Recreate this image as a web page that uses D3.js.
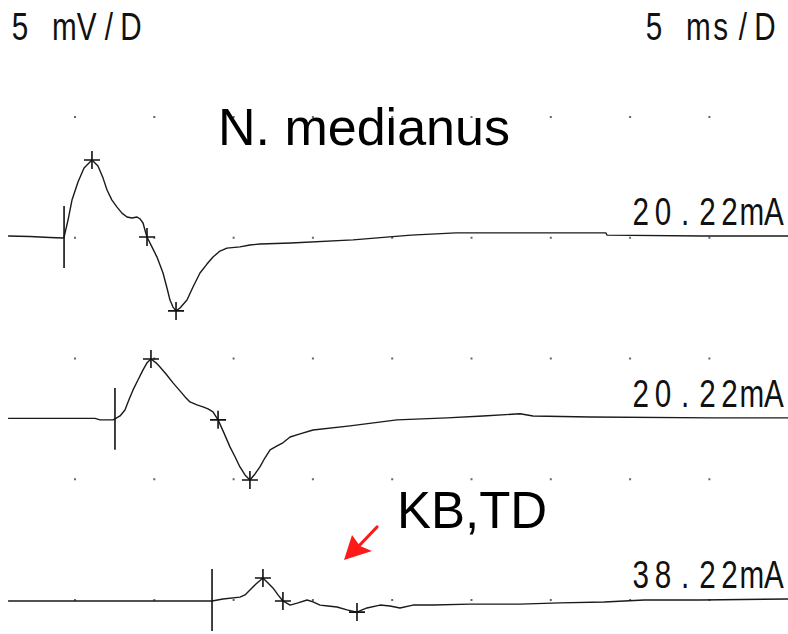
<!DOCTYPE html>
<html>
<head>
<meta charset="utf-8">
<script src="https://cdn.jsdelivr.net/npm/d3@7/dist/d3.min.js"></script>
<style>
  html, body { margin: 0; padding: 0; background: #fff; }
  svg { display: block; }
</style>
</head>
<body>
<svg id="chart" width="788" height="634"></svg>
<script>
// Sweep settings: 5 ms per division horizontally, 5 mV per division vertically
const msPerDiv = 5;
const mVPerDiv = 5;
const gridTimes = [5, 10, 15, 20, 25, 30, 35, 40, 45];
const gridLevels = [0, -5, -10, -15, -20];

// Recording 1 (time in ms, amplitude in mV relative to its baseline)
const trace1Time = [0.78, 2.16, 3.42, 4.24, 4.31, 4.56, 4.81, 5.19, 5.57, 6.07, 6.45, 6.77, 7.02, 7.33, 7.65, 7.96, 8.28, 8.59, 8.91, 9.10, 9.29, 9.41, 9.54, 9.85, 10.17, 10.55, 10.80, 10.99, 11.18, 11.37, 11.62, 12.06, 12.44, 12.88, 13.32, 13.70, 14.14, 14.58, 15.40, 16.03, 16.66, 18.62, 22.53, 26.19, 29.02, 38.48, 38.54, 44.53, 49.96];
const trace1Amp  = [0.04, 0.02, -0.02, -0.04, 0, 0.70, 1.53, 2.28, 2.86, 3.19, 2.94, 2.44, 1.95, 1.53, 1.24, 0.99, 0.83, 0.79, 0.83, 0.75, 0.58, 0.29, 0, -0.41, -0.83, -1.49, -2.11, -2.61, -2.90, -3.06, -2.94, -2.61, -2.07, -1.49, -1.12, -0.83, -0.58, -0.46, -0.41, -0.33, -0.29, -0.25, -0.12, 0.08, 0.17, 0.17, 0.08, 0.04, 0.04];
const trace1MarkTime = [6.07, 9.54, 11.37];
const trace1MarkAmp  = [3.19, 0, -3.06];

// Recording 2
const trace2Time = [0.78, 6.26, 6.58, 7.40, 7.52, 7.84, 8.15, 8.40, 8.66, 8.97, 9.29, 9.54, 9.79, 10.11, 10.36, 10.74, 11.18, 11.62, 11.94, 12.25, 12.69, 13.07, 13.39, 13.70, 14.02, 14.39, 14.77, 15.09, 15.40, 15.72, 16.03, 16.35, 16.66, 16.98, 17.30, 17.74, 18.11, 18.56, 19.19, 20.01, 22.34, 25.30, 28.46, 30.72, 33.06, 33.88, 37.47, 45.23, 49.96];
const trace2Amp  = [0.02, 0.02, -0.04, -0.04, 0, 0.12, 0.37, 0.79, 1.20, 1.61, 2.03, 2.32, 2.48, 2.32, 2.15, 1.86, 1.49, 1.16, 0.91, 0.70, 0.58, 0.50, 0.41, 0.29, -0.04, -0.58, -1.16, -1.57, -1.99, -2.32, -2.53, -2.28, -1.99, -1.61, -1.28, -1.12, -0.99, -0.75, -0.62, -0.46, -0.29, -0.04, 0.04, 0.12, 0.21, 0.12, 0.08, 0.04, 0.04];
const trace2MarkTime = [9.79, 14.02, 16.03];
const trace2MarkAmp  = [2.48, -0.04, -2.53];

// Recording 3
const trace3Time = [0.78, 6.58, 13.64, 14.33, 15.40, 15.72, 16.03, 16.41, 16.85, 17.17, 17.48, 17.80, 18.11, 18.56, 19.06, 19.63, 20.01, 20.45, 20.95, 21.52, 22.15, 22.78, 23.10, 23.41, 24.23, 24.86, 25.49, 26.31, 27.57, 29.91, 33.06, 35.58, 38.37, 40.90, 44.41, 49.96];
const trace3Amp  = [-0.04, -0.04, -0.04, 0.04, 0.12, 0.21, 0.41, 0.66, 0.91, 0.70, 0.50, 0.21, -0.04, -0.21, -0.12, 0, -0.08, -0.21, -0.25, -0.29, -0.41, -0.50, -0.41, -0.33, -0.21, -0.25, -0.33, -0.21, -0.21, -0.17, -0.17, -0.12, -0.08, 0, 0, 0.04];
const trace3MarkTime = [16.85, 18.11, 22.78];
const trace3MarkAmp  = [0.91, -0.04, -0.50];

// Per-recording stimulus onset (ms), baseline level (mV) and stimulus intensity
const stimTimes = [4.31, 7.52, 13.64];
const baseLevels = [-4.97, -12.5, -20];
const intensityLabels = ["20.22mA", "20.22mA", "38.22mA"];

const traces = [
  { time: trace1Time, amp: trace1Amp, markTime: trace1MarkTime, markAmp: trace1MarkAmp },
  { time: trace2Time, amp: trace2Amp, markTime: trace2MarkTime, markAmp: trace2MarkAmp },
  { time: trace3Time, amp: trace3Amp, markTime: trace3MarkTime, markAmp: trace3MarkAmp }
];

const svg = d3.select("#chart");

const x = d3.scaleLinear().domain([0, 10 * msPerDiv]).range([-4.3, 788.7]);
const y = d3.scaleLinear().domain([0, -4 * mVPerDiv]).range([117, 600]);

// Dotted division grid
const gridPts = [];
gridLevels.forEach(v => gridTimes.forEach(t => gridPts.push([t, v])));
svg.append("g").selectAll("rect").data(gridPts).join("rect")
  .attr("x", d => x(d[0]) - 1)
  .attr("y", d => y(d[1]) - 1)
  .attr("width", 2).attr("height", 2)
  .attr("fill", "#666");

// Monospaced device lettering: each glyph centred in its own cell
const cellW = 22.2;
function monoText(str, anchorX, baseline, alignRight) {
  const chars = str.split("");
  const first = alignRight ? anchorX - (chars.length - 1) * cellW : anchorX;
  const g = svg.append("g");
  chars.forEach((c, i) => {
    if (c === " ") return;
    g.append("text")
      .attr("transform", `translate(${first + i * cellW},${baseline}) scale(0.78,1)`)
      .attr("text-anchor", "middle")
      .attr("font-family", "'Liberation Sans', Arial, sans-serif")
      .attr("font-size", 38)
      .attr("fill", "#111")
      .text(c);
  });
}

monoText("5 mV/D", 20, 40, false);
monoText("5 ms/D", 765, 40, true);

const line = d3.line().x(d => x(d[0])).y(d => y(d[1]));

traces.forEach((tr, k) => {
  const base = baseLevels[k];
  const pts = tr.time.map((t, i) => [t, base + tr.amp[i]]);
  svg.append("path")
    .attr("d", line(pts))
    .attr("fill", "none")
    .attr("stroke", "#1a1a1a")
    .attr("stroke-width", 1.4)
    .attr("stroke-linejoin", "round");

  // stimulus onset bar
  svg.append("line")
    .attr("x1", x(stimTimes[k])).attr("x2", x(stimTimes[k]))
    .attr("y1", y(base + 1.28)).attr("y2", y(base - 1.28))
    .attr("stroke", "#111").attr("stroke-width", 1.6);

  // latency / amplitude cursors
  const marks = svg.append("g");
  tr.markTime.forEach((t, i) => {
    const cx = x(t), cy = y(base + tr.markAmp[i]);
    marks.append("path")
      .attr("d", `M${cx - 8},${cy}H${cx + 8}M${cx},${cy - 9}V${cy + 9}`)
      .attr("stroke", "#111").attr("stroke-width", 1.6).attr("fill", "none");
  });

  monoText(intensityLabels[k], 774, y(base) - 12, true);
});

// Annotations
svg.append("text")
  .attr("x", 218).attr("y", 145)
  .attr("font-family", "'Liberation Sans', Arial, sans-serif")
  .attr("font-size", 52)
  .attr("fill", "#000")
  .text("N. medianus");

svg.append("text")
  .attr("x", 397).attr("y", 528)
  .attr("font-family", "'Liberation Sans', Arial, sans-serif")
  .attr("font-size", 51)
  .attr("fill", "#000")
  .text("KB,TD");

// Red pointer arrow
svg.append("line")
  .attr("x1", 377).attr("y1", 527).attr("x2", 356).attr("y2", 549)
  .attr("stroke", "#ff1a1a").attr("stroke-width", 3.2).attr("stroke-linecap", "round");
svg.append("path")
  .attr("d", "M344,560 L352,535 L360,546 L372,551 Z")
  .attr("fill", "#ff1a1a");
</script>
</body>
</html>
